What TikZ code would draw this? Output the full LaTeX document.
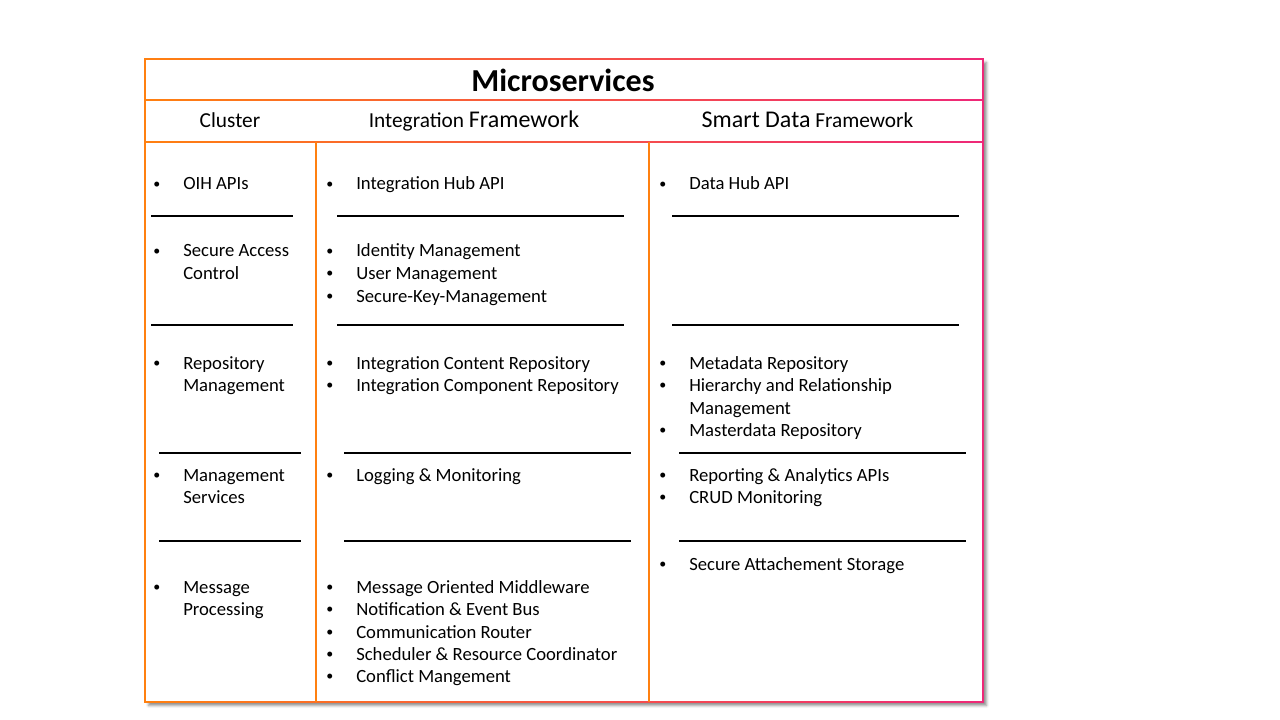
\documentclass[tikz,border=0pt]{standalone}
\usepackage{fontspec}
\setmainfont{Carlito}
\usetikzlibrary{shadows.blur}
\definecolor{edgeorange}{RGB}{255,128,16}
\definecolor{edgepink}{RGB}{238,40,120}

% one bulleted line: name, bullet x, text x, baseline y, text
\newcommand\bulletline[5]{%
  \node[dotmark] (#1-dot) at (#2,#4) {\raisebox{0.8pt}{•}};
  \node[itemtext] (#1) at (#3,#4) {#5};}
% continuation line without bullet: name, text x, baseline y, text
\newcommand\contline[4]{%
  \node[itemtext] (#1) at (#2,#3) {#4};}

\begin{document}
\begin{tikzpicture}[x=0.75pt,y=-0.75pt,
  itemtext/.style={anchor=base west, inner sep=0pt, font=\fontsize{14}{17}\selectfont},
  dotmark/.style={anchor=base west, inner sep=0pt, font=\fontsize{10.5}{13}\selectfont},
  headtext/.style={anchor=base, inner sep=0pt, font=\fontsize{16}{19}\selectfont},
  rule/.style={black, line width=0.8pt},
  fadeedge/.style={left color=edgeorange, right color=edgepink},
]
\useasboundingbox (0,0) rectangle (1280,720);

% table body with its drop shadow
\fill[white, blur shadow={shadow xshift=2.6pt, shadow yshift=-2.6pt,
      shadow blur radius=2pt, shadow opacity=45}] (145,59) rectangle (983,702);

% horizontal borders, fading from orange to pink
\shade[fadeedge] (144.3,58.3) rectangle (983.7,59.8);
\shade[fadeedge] (144.3,99.3) rectangle (983.7,100.8);
\shade[fadeedge] (144.3,141.3) rectangle (983.7,142.8);
\shade[fadeedge] (144.3,701.2) rectangle (983.7,702.7);
% vertical borders
\fill[edgeorange] (144.3,58.3) rectangle (145.8,702.7);
\fill[edgepink] (982.2,58.3) rectangle (983.7,702.7);
\fill[edgeorange] (315.4,142) rectangle (317,702);
\fill[edgeorange] (648.4,142) rectangle (650,702);

% title and column headers
\node[anchor=base, inner sep=0pt, font=\fontsize{24}{28}\selectfont\bfseries]
  (title) at (563,92) {Microservices};
\node[headtext] (hcluster) at (230,128) {Cluster};
\node[headtext] (hintegration) at (474,128)
  {Integration {\fontsize{18}{21}\selectfont Framework}};
\node[headtext] (hsmart) at (807.5,128)
  {{\fontsize{18}{21}\selectfont Smart Data} Framework};

% separators
\foreach \y in {216,325} {
  \draw[rule] (151,\y) -- (293,\y);
  \draw[rule] (337,\y) -- (624,\y);
  \draw[rule] (672,\y) -- (959,\y);
}
\foreach \y in {453,541} {
  \draw[rule] (159,\y) -- (301,\y);
  \draw[rule] (344,\y) -- (631,\y);
  \draw[rule] (679,\y) -- (966,\y);
}

% Cluster column
\bulletline{a1}{153}{183}{190}{OIH APIs}
\bulletline{a2}{153}{183}{257}{Secure Access}
\contline{a2b}{183}{279}{Control}
\bulletline{a3}{153}{183}{369}{Repository}
\contline{a3b}{183}{391}{Management}
\bulletline{a4}{153}{183}{481}{Management}
\contline{a4b}{183}{503}{Services}
\bulletline{a5}{153}{183}{593}{Message}
\contline{a5b}{183}{615}{Processing}

% Integration Framework column
\bulletline{b1}{326}{356}{190}{Integration Hub API}
\bulletline{b2}{326}{356}{257}{Identity Management}
\bulletline{b3}{326}{356}{279}{User Management}
\bulletline{b4}{326}{356}{302}{Secure-Key-Management}
\bulletline{b5}{326}{356}{369}{Integration Content Repository}
\bulletline{b6}{326}{356}{391}{Integration Component Repository}
\bulletline{b7}{326}{356}{481}{Logging \& Monitoring}
\bulletline{b8}{326}{356}{593}{Message Oriented Middleware}
\bulletline{b9}{326}{356}{615}{Notification \& Event Bus}
\bulletline{b10}{326}{356}{638}{Communication Router}
\bulletline{b11}{326}{356}{660}{Scheduler \& Resource Coordinator}
\bulletline{b12}{326}{356}{682}{Conflict Mangement}

% Smart Data Framework column
\bulletline{c1}{659}{689}{190}{Data Hub API}
\bulletline{c2}{659}{689}{369}{Metadata Repository}
\bulletline{c3}{659}{689}{391}{Hierarchy and Relationship}
\contline{c3b}{689}{414}{Management}
\bulletline{c4}{659}{689}{436}{Masterdata Repository}
\bulletline{c5}{659}{689}{481}{Reporting \& Analytics APIs}
\bulletline{c6}{659}{689}{503}{CRUD Monitoring}
\bulletline{c7}{659}{689}{570}{Secure Attachement Storage}
\end{tikzpicture}
\end{document}
